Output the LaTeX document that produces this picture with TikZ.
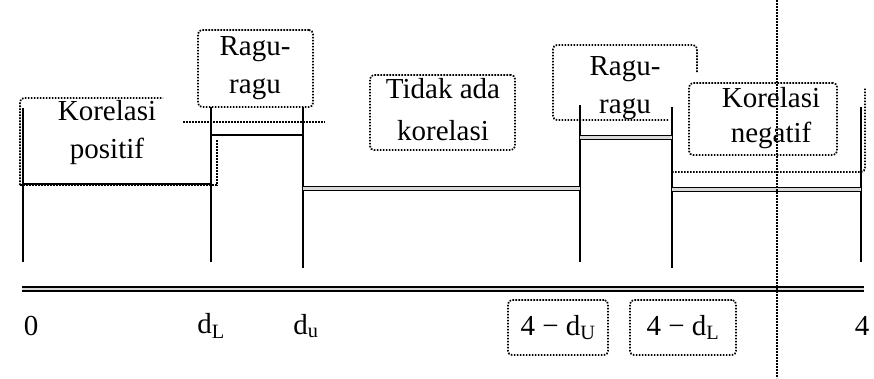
\documentclass[tikz,border=0pt]{standalone}
\usepackage{fontspec}
\setmainfont{Liberation Serif}
\begin{document}
\begin{tikzpicture}[x=1pt,y=-1pt,
  sline/.style={line width=1.9pt},
  dotline/.style={line width=1.7pt, dash pattern=on 1.6pt off 1.4pt},
  dbl/.style={line width=1.6pt, double=black!15, double distance=2.6pt},
  lbl/.style={font=\fontsize{29}{38}\selectfont, align=center, inner sep=0pt},
  tbox/.style={dotline, draw, rounded corners=4pt, inner sep=0pt}]
\useasboundingbox (0,0) rectangle (874,378);

% coordinates of the vertical boundaries
\coordinate (a0t) at (23,108);  \coordinate (a0b) at (23,262);
\coordinate (dLt) at (211,107); \coordinate (dLb) at (211,262);
\coordinate (dUt) at (303,107); \coordinate (dUb) at (303,268);
\coordinate (eUt) at (580,105); \coordinate (eUb) at (580,262);
\coordinate (eLt) at (672,107); \coordinate (eLb) at (672,268);
\coordinate (ft)  at (861,107); \coordinate (fb)  at (861,262);

% dotted text-box outlines
\draw[dotline, rounded corners=4pt] (20,185) -- (20,98) -- (163,98);
\draw[dotline] (217,140) -- (217,185) -- (20,185);
\draw[dotline] (183,122) -- (325,122);
\draw[dotline, rounded corners=4pt] (672,172) -- (865,172) -- (865,88);
\draw[dotline, rounded corners=4pt] (697,72) -- (697,45) -- (553,45) -- (553,120) -- (668,120);
\node[tbox, minimum width=115, minimum height=77] (bRL) at (255.5,68.5) {};
\node[tbox, minimum width=145, minimum height=75] (bTA) at (442.5,112.5) {};
\node[tbox, minimum width=148, minimum height=72] (bKN) at (763,119) {};

% verticals
\draw[sline] (a0t) -- (a0b);
\draw[sline] (dLt) -- (dLb);
\draw[sline] (dUt) -- (dUb);
\draw[sline] (eUt) -- (eUb);
\draw[sline] (eLt) -- (eLb);
\draw[sline] (ft) -- (fb);

% levels
\draw[sline] (23,184) -- (211,184);
\draw[sline] (211,135) -- (303,135);
\draw[dbl] (303,188.5) -- (580,188.5);
\draw[dbl] (580,137.5) -- (672,137.5);
\draw[dbl] (672,189.5) -- (861,189.5);

% axis
\draw[dbl] (22,289) -- (864,289);

% vertical dotted guide
\coordinate (gt) at (777,0);
\coordinate (gb) at (777,378);
\draw[dotline] (gt) -- (gb);

% texts
\node[lbl] (tKP) at (107,133) {Korelasi\\positif};
\node[lbl] (tRL) at (255,68) {Ragu-\\ragu};
\node[lbl, font=\fontsize{29}{42}\selectfont] (tTA) at (443,110) {Tidak ada\\korelasi};
\node[lbl] (tRR) at (625,88) {Ragu-\\ragu};
\node[lbl, font=\fontsize{29}{35}\selectfont] (tKN) at (771,118) {Korelasi\\negatif};

% axis labels
\node[lbl] (n0) at (31,326) {0};
\node[lbl] (ndL) at (211,326) {d\textsubscript{L}};
\node[lbl] (ndu) at (306,326) {d\textsubscript{u}};
\node[tbox, lbl, draw, minimum width=100, minimum height=55] (ndU4) at (558,327.5) {4 − d\textsubscript{U}};
\node[tbox, lbl, draw, minimum width=106, minimum height=55] (ndL4) at (683,327.5) {4 − d\textsubscript{L}};
\node[lbl] (n4) at (862,326) {4};
\end{tikzpicture}
\end{document}
